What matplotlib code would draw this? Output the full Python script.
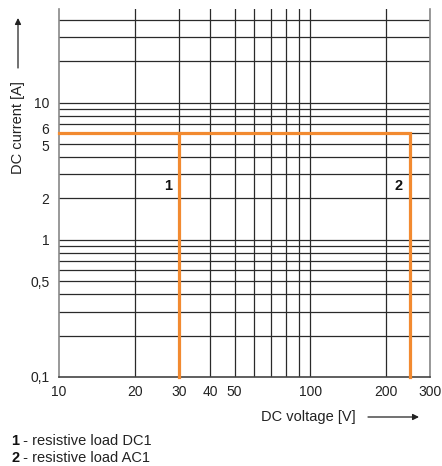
import matplotlib.pyplot as plt
from matplotlib.ticker import FixedLocator, NullFormatter
from matplotlib.transforms import ScaledTranslation

plt.rcParams['font.family'] = ['Liberation Sans', 'DejaVu Sans']

# voltage axis
x_ticks = [10, 20, 30, 40, 50, 100, 200, 300]
x_grid = [20, 30, 40, 50, 60, 70, 80, 90, 100, 200, 300]

# current axis
y_ticks = [0.1, 0.5, 1, 2, 5, 6, 10]
y_tick_labels = ["0,1", "0,5", "1", "2", "5", "6", "10"]
y_grid = [0.2, 0.3, 0.4, 0.5, 0.6, 0.7, 0.8, 0.9, 1,
          2, 3, 4, 5, 6, 7, 8, 9, 10, 20, 30, 40]

# curve 1 (DC1) and curve 2 (AC1): voltage / current limits
curve_dc1_v = [10, 30, 30]
curve_dc1_i = [6, 6, 0.1]
curve_ac1_v = [30, 250, 250]
curve_ac1_i = [6, 6, 0.1]

curve_labels = ["1", "2"]
curve_label_v = [27.2, 224]
curve_label_i = [2.45, 2.45]

legend_lines = [("1", " - resistive load DC1"), ("2", " - resistive load AC1")]

W, H = 442, 466
fig = plt.figure(figsize=(W / 100, H / 100), dpi=100)
ax = fig.add_axes([59 / W, 1 - 377 / H, (430 - 59) / W, (377 - 9) / H])

ax.set_xscale("log")
ax.set_yscale("log")
ax.set_xlim(10, 300)
ax.set_ylim(0.1, 48)

ax.xaxis.set_major_locator(FixedLocator(x_ticks))
ax.xaxis.set_major_formatter(plt.FixedFormatter([str(v) for v in x_ticks]))
ax.xaxis.set_minor_locator(FixedLocator(x_grid))
ax.xaxis.set_minor_formatter(NullFormatter())
ax.yaxis.set_major_locator(FixedLocator(y_ticks))
ax.yaxis.set_major_formatter(plt.FixedFormatter(y_tick_labels))
ax.yaxis.set_minor_locator(FixedLocator(y_grid))
ax.yaxis.set_minor_formatter(NullFormatter())

ax.tick_params(which="both", length=0, labelsize=10, colors="#222222")
ax.tick_params(axis="x", pad=6)
ax.tick_params(axis="y", pad=7)

# the "6" and "5" labels sit close together: nudge them apart a little
fig.canvas.draw()
for lab in ax.get_yticklabels():
    if lab.get_text() == "6":
        lab.set_transform(lab.get_transform() + ScaledTranslation(0, 3 / 72, fig.dpi_scale_trans))
    elif lab.get_text() == "5":
        lab.set_transform(lab.get_transform() + ScaledTranslation(0, -1.5 / 72, fig.dpi_scale_trans))

for v in x_grid:
    ax.axvline(v, color="#2a2a2a", lw=0.9, zorder=1)
for v in y_grid:
    ax.axhline(v, color="#2a2a2a", lw=0.9, zorder=1)

ax.spines["top"].set_visible(False)
ax.spines["left"].set_color("#888888")
ax.spines["right"].set_color("#888888")
ax.spines["bottom"].set_color("#444444")
ax.spines["left"].set_linewidth(1.2)
ax.spines["right"].set_linewidth(1.2)
ax.spines["bottom"].set_linewidth(1.2)

orange = "#f28a30"
ax.plot(curve_dc1_v, curve_dc1_i, color=orange, lw=2.3, zorder=3,
        solid_joinstyle="miter", clip_on=False)
ax.plot(curve_ac1_v, curve_ac1_i, color=orange, lw=2.3, zorder=3,
        solid_joinstyle="miter", clip_on=False)

for lab, v, i in zip(curve_labels, curve_label_v, curve_label_i):
    ax.text(v, i, lab, fontsize=10.5, fontweight="bold", ha="center",
            va="center", color="#111111", zorder=4)

# axis titles with arrows
fig.text(18 / W, 1 - 128 / H, "DC current [A]", rotation=90, fontsize=10.5,
         ha="center", va="center", color="#222222")
fig.add_artist(plt.Annotation("", xy=(18 / W, 1 - 18 / H), xytext=(18 / W, 1 - 68 / H),
                              xycoords="figure fraction", textcoords="figure fraction",
                              arrowprops=dict(arrowstyle="-|>", color="#222222", lw=0.9,
                                              mutation_scale=9, shrinkA=0, shrinkB=0)))
fig.text(308 / W, 1 - 417 / H, "DC voltage [V]", fontsize=10.5,
         ha="center", va="center", color="#222222")
fig.add_artist(plt.Annotation("", xy=(419 / W, 1 - 417 / H), xytext=(368 / W, 1 - 417 / H),
                              xycoords="figure fraction", textcoords="figure fraction",
                              arrowprops=dict(arrowstyle="-|>", color="#222222", lw=0.9,
                                              mutation_scale=9, shrinkA=0, shrinkB=0)))

# legend text
for k, (num, desc) in enumerate(legend_lines):
    y = 1 - (441 + 17 * k) / H
    fig.text(11 / W, y, num, fontsize=10.5, fontweight="bold", va="center", color="#111111")
    fig.text(19 / W, y, desc, fontsize=10.5, va="center", color="#222222")

fig.savefig("out.png", dpi=100)
